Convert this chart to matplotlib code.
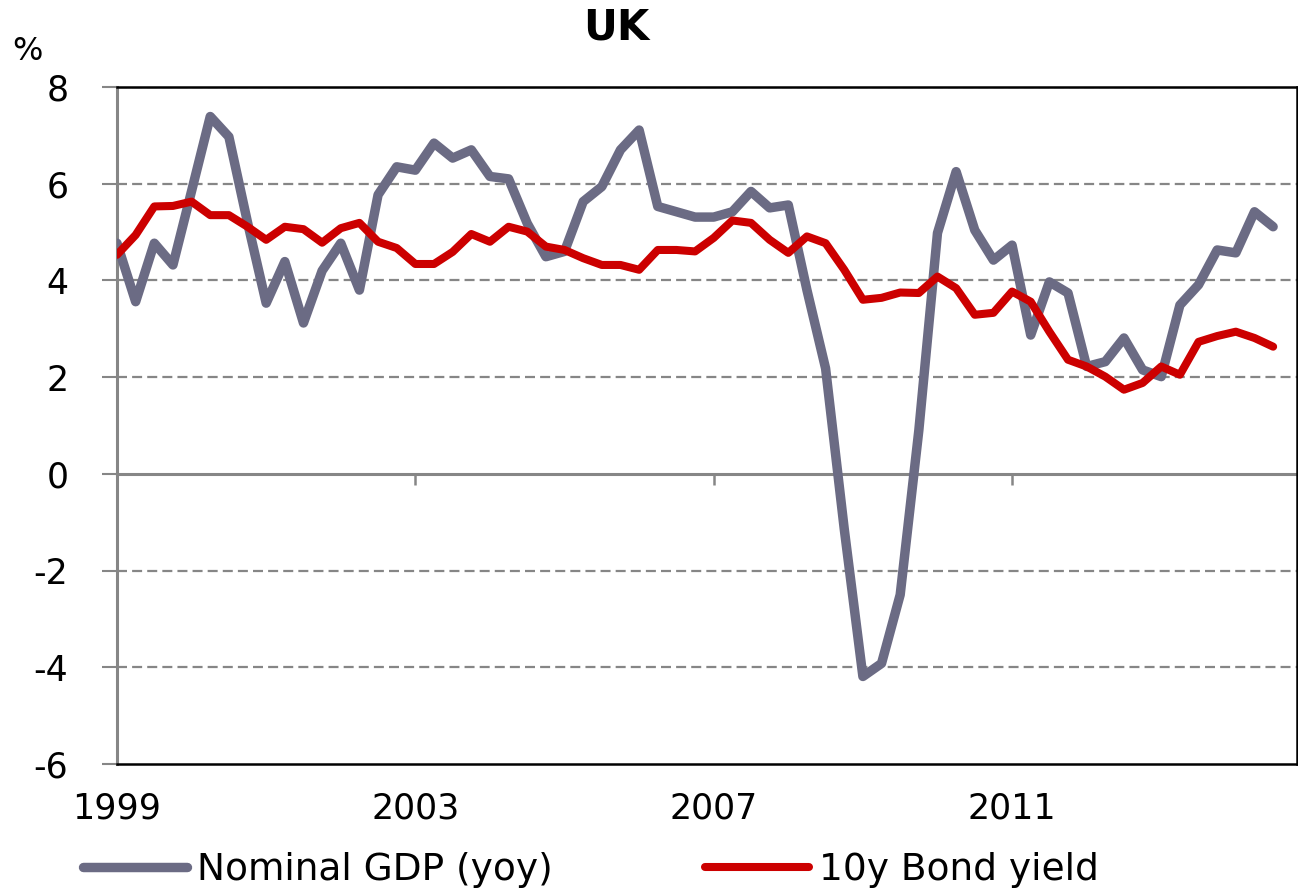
import numpy as np
import matplotlib.pyplot as plt

# quarterly series, 1999Q1 .. 2014Q3
start_year = 1999
gdp_yoy = [
    4.77, 3.56, 4.77, 4.32,   # 1999
    5.85, 7.39, 6.97, 5.20,   # 2000
    3.53, 4.39, 3.12, 4.20,   # 2001
    4.77, 3.80, 5.77, 6.35,   # 2002
    6.28, 6.84, 6.53, 6.70,   # 2003
    6.15, 6.10, 5.18, 4.49,   # 2004
    4.60, 5.63, 5.94, 6.70,   # 2005
    7.11, 5.53, 5.42, 5.31,   # 2006
    5.31, 5.42, 5.84, 5.50,   # 2007
    5.56, 3.80, 2.18, -1.14,  # 2008
    -4.19, -3.92, -2.50, 0.90,  # 2009
    4.98, 6.25, 5.04, 4.42,   # 2010
    4.73, 2.87, 3.97, 3.74,   # 2011
    2.22, 2.32, 2.81, 2.15,   # 2012
    2.01, 3.49, 3.91, 4.63,   # 2013
    4.57, 5.42, 5.11,         # 2014
]
bond_10y = [
    4.53, 4.94, 5.53, 5.54,
    5.63, 5.35, 5.35, 5.11,
    4.84, 5.11, 5.06, 4.78,
    5.08, 5.19, 4.80, 4.67,
    4.34, 4.34, 4.59, 4.96,
    4.80, 5.11, 5.01, 4.70,
    4.63, 4.46, 4.32, 4.32,
    4.22, 4.63, 4.63, 4.60,
    4.88, 5.24, 5.19, 4.84,
    4.57, 4.91, 4.77, 4.22,
    3.60, 3.64, 3.75, 3.74,
    4.08, 3.84, 3.29, 3.33,
    3.77, 3.56, 2.94, 2.36,
    2.22, 2.01, 1.74, 1.88,
    2.22, 2.05, 2.73, 2.85,
    2.94, 2.81, 2.63,
]
year_ticks = [1999, 2003, 2007, 2011]
y_ticks = [-6, -4, -2, 0, 2, 4, 6, 8]

GREY = '#6b6b84'
RED = '#cc0000'
AXGREY = '#868686'

x = start_year + np.arange(len(gdp_yoy)) * 0.25

fig = plt.figure(figsize=(12.98, 8.93), dpi=100)
ax = fig.add_axes([117/1298, 1 - 764/893, (1297 - 117)/1298, (764 - 87)/893])

# dashed grid (no line at 0 / -6, those are axis lines)
for yv in y_ticks:
    if yv not in (0, -6):
        ax.axhline(yv, color=AXGREY, lw=1.6, linestyle=(0, (4.5, 2.3)), zorder=1)

ax.plot(x, gdp_yoy, color=GREY, lw=6.8, solid_joinstyle='round',
        solid_capstyle='round', label='Nominal GDP (yoy)', zorder=3)
ax.plot(x, bond_10y, color=RED, lw=5.8, solid_joinstyle='round',
        solid_capstyle='round', label='10y Bond yield', zorder=4)

ax.set_xlim(1999, 2014.82)
ax.set_ylim(-6, 8)
ax.set_yticks(y_ticks)
ax.set_yticklabels([str(v) for v in y_ticks])
ax.set_xticks(year_ticks)
ax.set_xticklabels([str(v) for v in year_ticks])

ax.tick_params(axis='y', direction='out', length=11, width=1.5, color=AXGREY,
               pad=24, labelsize=25)
ax.tick_params(axis='x', length=0, pad=20, labelsize=25)

for side in ('top', 'right', 'bottom'):
    ax.spines[side].set_color('black')
    ax.spines[side].set_linewidth(1.8)
ax.spines['left'].set_color(AXGREY)
ax.spines['left'].set_linewidth(2.2)

# category axis crossing at zero, with its small tick marks
secax = ax.secondary_xaxis(6/14)
secax.set_xticks(year_ticks[1:])
secax.tick_params(axis='x', direction='out', length=8, width=1.8, color=AXGREY,
                  labelbottom=False)
secax.spines['bottom'].set_color(AXGREY)
secax.spines['bottom'].set_linewidth(2.2)

fig.text(616/1298, 1 - 27/893, 'UK', ha='center', va='center',
         fontsize=30, fontweight='bold')
fig.text(12/1298, 1 - 51/893, '%', ha='left', va='center', fontsize=23)

fig.legend(loc='center left', bbox_to_anchor=(83/1298, 1 - 870/893), ncol=2,
           frameon=False, borderpad=0, borderaxespad=0, handlelength=2.77,
           handletextpad=0.27, columnspacing=4.05, fontsize=27)

fig.savefig('out.png', dpi=100)
